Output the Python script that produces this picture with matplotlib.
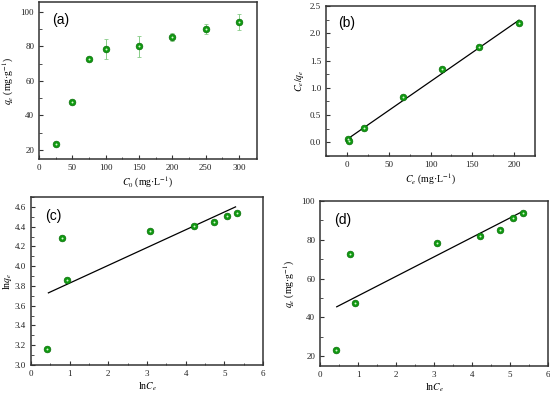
import numpy as np
import matplotlib
matplotlib.use("Agg")
import matplotlib.pyplot as plt
from matplotlib.ticker import AutoMinorLocator

plt.rcParams['font.family'] = ['Liberation Serif', 'DejaVu Serif']
plt.rcParams['mathtext.fontset'] = 'stix'

# (a) isotherm
c0 = [25, 50, 75, 100, 150, 200, 250, 300]
qe = [23.5, 47.5, 72.8, 78.5, 80.0, 85.3, 90.0, 94.0]
qe_err = [0.5, 0.5, 0.5, 5.7, 6.0, 2.3, 2.8, 4.5]

# (b) Langmuir
ce = [0.8, 2.4, 20.7, 67.6, 114.2, 157.9, 205.3]
ce_qe = [0.06, 0.03, 0.27, 0.83, 1.35, 1.75, 2.19]
lang_x = [0.8, 205.8]
lang_y = [0.062, 2.24]

# (c) Freundlich
ln_ce = [0.42, 0.79, 0.92, 3.07, 4.22, 4.74, 5.07, 5.33]
ln_qe = [3.16, 4.29, 3.86, 4.36, 4.41, 4.45, 4.51, 4.54]
fr_x = [0.45, 5.29]
fr_y = [3.73, 4.60]

# (d) Temkin
qe_d = [23.5, 72.8, 47.5, 78.5, 82.0, 85.3, 91.0, 94.0]
tk_x = [0.44, 5.27]
tk_y = [45.5, 94.0]

W, H = 550, 396
fig = plt.figure(figsize=(5.5, 3.96), dpi=100)


def make_ax(l, r, t, b):
    ax = fig.add_axes([l / W, (H - b) / H, (r - l) / W, (b - t) / H])
    for s in ax.spines.values():
        s.set_linewidth(1.1)
        s.set_color('#333333')
    ax.tick_params(direction='in', which='both', labelsize=6.5, top=False, right=False,
                   colors='#333333', labelcolor='#222222')
    ax.tick_params(which='major', length=3, width=0.8)
    ax.tick_params(which='minor', length=1.8, width=0.6)
    ax.xaxis.set_minor_locator(AutoMinorLocator(2))
    ax.yaxis.set_minor_locator(AutoMinorLocator(2))
    return ax


def dots(ax, x, y):
    ax.plot(x, y, 'o', ms=4.8, color='#0f9a10', mec='#0a6e0a', mew=0.5, zorder=3)
    ax.plot(x, y, 'o', ms=1.4, color='#d8f5d0', mew=0, zorder=4)


def panel_label(ax, txt):
    ax.text(0.06, 0.93, txt, transform=ax.transAxes, fontsize=10,
            family='Liberation Sans', va='top', ha='left')


# (a)
ax = make_ax(39, 257, 2, 159)
ax.errorbar(c0, qe, yerr=qe_err, fmt='none', ecolor='#88cc88', elinewidth=0.7,
            capsize=1.5, capthick=0.6, zorder=2)
dots(ax, c0, qe)
ax.set_xlim(0, 327)
ax.set_ylim(14.8, 105.6)
ax.set_xticks([0, 50, 100, 150, 200, 250, 300])
ax.set_yticks([20, 40, 60, 80, 100])
ax.set_xlabel(r'$C_0$ (mg·L$^{-1}$)', fontsize=7, labelpad=2)
ax.set_ylabel(r'$q_e$ (mg·g$^{-1}$)', fontsize=7, labelpad=3)
panel_label(ax, '(a)')

# (b)
ax = make_ax(326, 535, 6, 156)
ax.plot(lang_x, lang_y, '-', color='black', lw=0.9, zorder=2)
dots(ax, ce, ce_qe)
ax.set_xlim(-25, 225)
ax.set_ylim(-0.25, 2.5)
ax.set_xticks([0, 50, 100, 150, 200])
ax.set_yticks([0.0, 0.5, 1.0, 1.5, 2.0, 2.5])
ax.set_yticklabels(['0.0', '0.5', '1.0', '1.5', '2.0', '2.5'])
ax.set_xlabel(r'$C_e$ (mg·L$^{-1}$)', fontsize=7, labelpad=2)
ax.set_ylabel(r'$C_e/q_e$', fontsize=7, labelpad=3)
panel_label(ax, '(b)')

# (c)
ax = make_ax(31, 263, 197, 365)
ax.plot(fr_x, fr_y, '-', color='black', lw=0.9, zorder=2)
dots(ax, ln_ce, ln_qe)
ax.set_xlim(0, 6)
ax.set_ylim(3.0, 4.7)
ax.set_xticks(range(7))
ax.set_yticks([3.0, 3.2, 3.4, 3.6, 3.8, 4.0, 4.2, 4.4, 4.6])
ax.set_yticklabels(['3.0', '3.2', '3.4', '3.6', '3.8', '4.0', '4.2', '4.4', '4.6'])
ax.set_xlabel(r'ln$C_e$', fontsize=7, labelpad=2)
ax.set_ylabel(r'ln$q_e$', fontsize=7, labelpad=0.5)
panel_label(ax, '(c)')

# (d)
ax = make_ax(320, 548, 201, 366)
ax.plot(tk_x, tk_y, '-', color='black', lw=0.9, zorder=2)
dots(ax, ln_ce, qe_d)
ax.set_xlim(0, 6)
ax.set_ylim(15, 100)
ax.set_xticks(range(7))
ax.set_yticks([20, 40, 60, 80, 100])
ax.set_xlabel(r'ln$C_e$', fontsize=7, labelpad=2)
ax.set_ylabel(r'$q_e$ (mg·g$^{-1}$)', fontsize=7, labelpad=3)
panel_label(ax, '(d)')

fig.savefig('out.png', dpi=100)
